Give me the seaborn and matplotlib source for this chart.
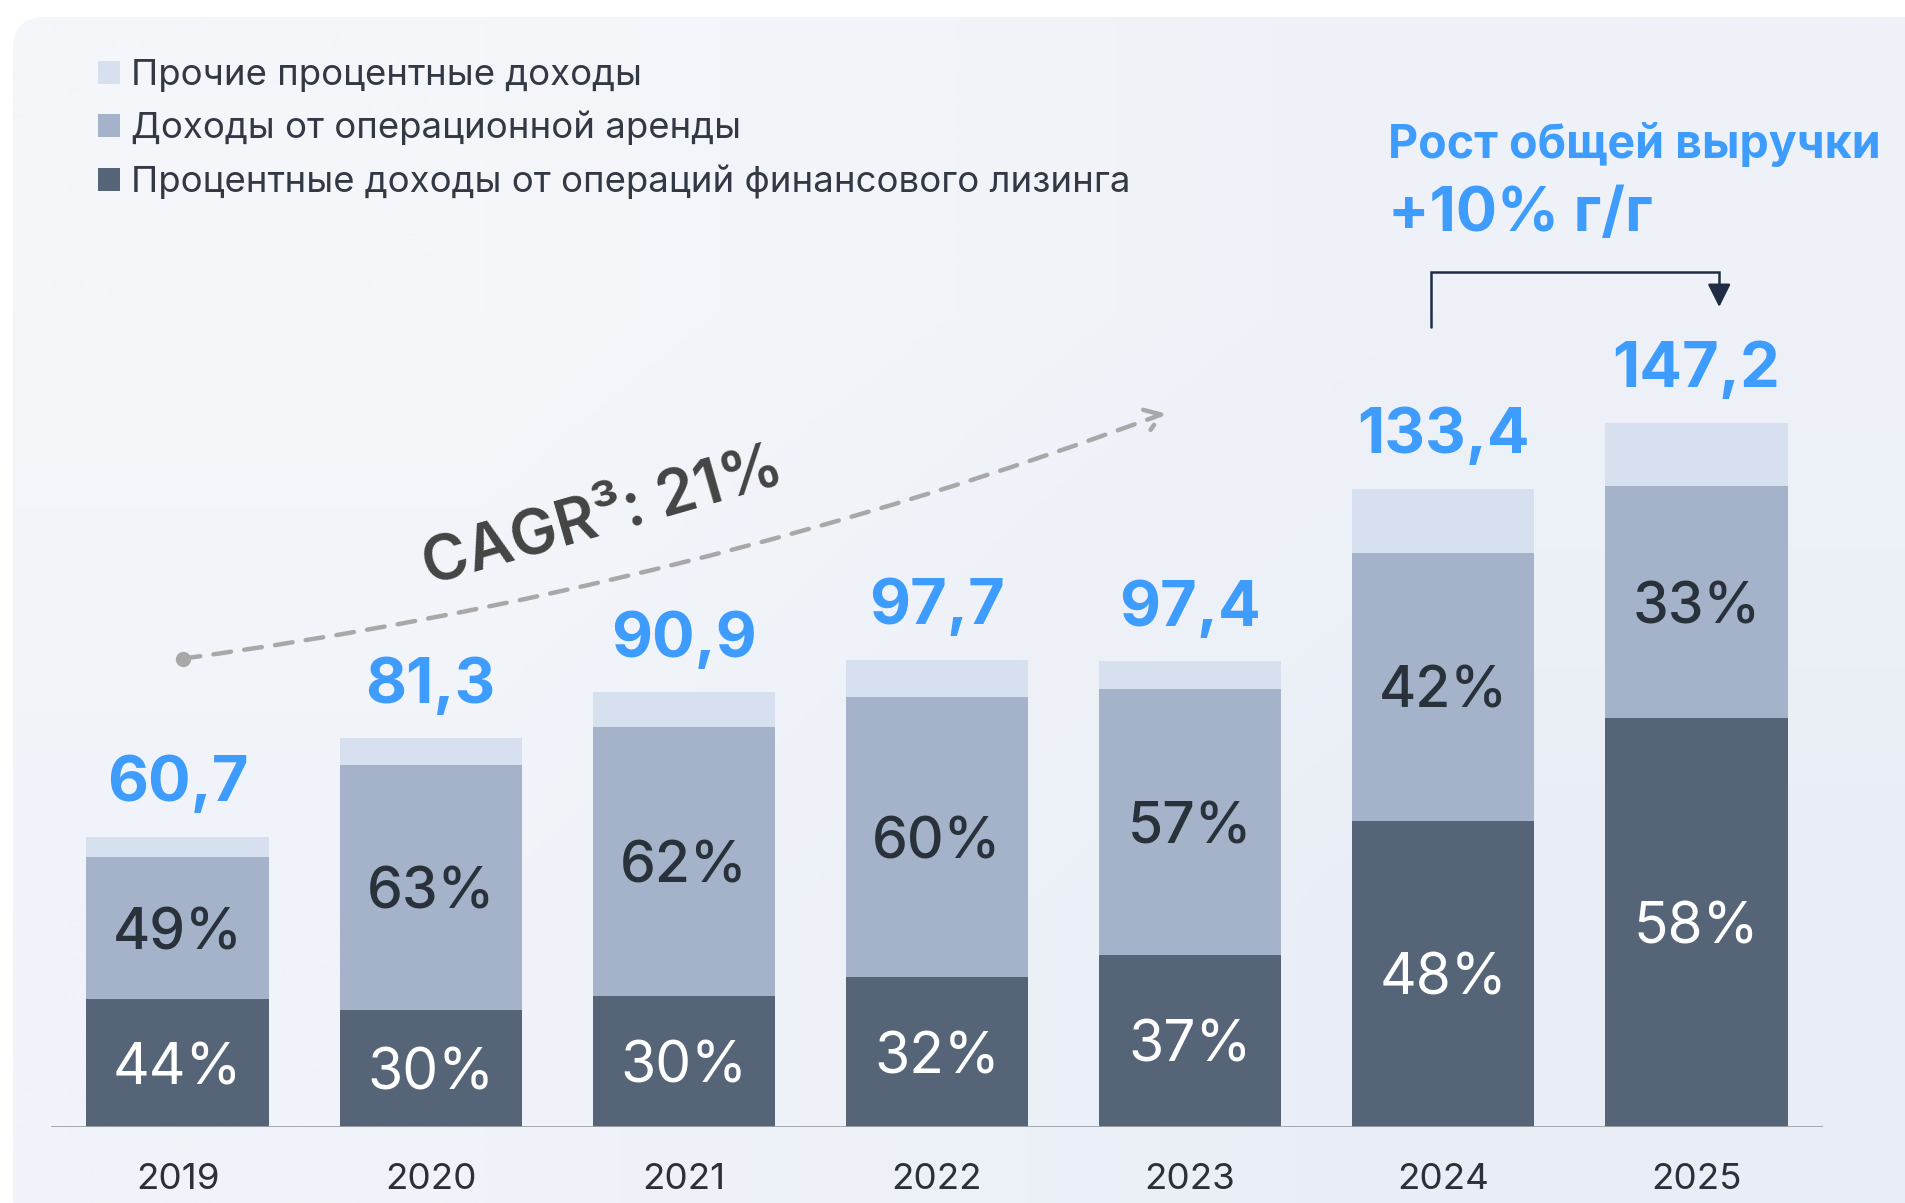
import matplotlib
matplotlib.use("Agg")
import numpy as np
import pandas as pd
import seaborn as sns
import matplotlib.pyplot as plt
from matplotlib.patches import FancyBboxPatch, Patch, FancyArrowPatch

# data (млрд руб.)
years = ["2019", "2020", "2021", "2022", "2023", "2024", "2025"]
leasing = [26.7, 24.4, 27.3, 31.3, 36.0, 64.0, 85.4]   # процентные доходы от фин. лизинга
rent = [29.7, 51.2, 56.4, 58.6, 55.5, 56.0, 48.6]      # доходы от операционной аренды
other = [4.3, 5.7, 7.2, 7.8, 5.9, 13.4, 13.2]          # прочие процентные доходы
total_labels = ["60,7", "81,3", "90,9", "97,7", "97,4", "133,4", "147,2"]
leasing_pct = ["44%", "30%", "30%", "32%", "37%", "48%", "58%"]
rent_pct = ["49%", "63%", "62%", "60%", "57%", "42%", "33%"]
series_names = ["Прочие процентные доходы",
                "Доходы от операционной аренды",
                "Процентные доходы от операций финансового лизинга"]
cagr_label = "CAGR³: 21%"
growth_title = "Рост общей выручки"
growth_value = "+10% г/г"

# colors
c_other = "#d7e0ee"
c_rent = "#a4b3c9"
c_leasing = "#556577"
c_blue = "#3d9cfd"
c_text = "#29313b"

sns.set_style("white")
plt.rcParams['font.family'] = ['Inter', 'DejaVu Sans']

df = pd.DataFrame({"year": years, "leasing": leasing, "rent": rent, "other": other})
df["lvl2"] = df["leasing"] + df["rent"]
df["total"] = df["lvl2"] + df["other"]

W, H = 1906, 1203
fig = plt.figure(figsize=(W / 100, H / 100), dpi=100)
fig.patch.set_facecolor("white")

# background panel with soft gradient
bg = fig.add_axes([0, 0, 1, 1], zorder=-5)
bg.set_xlim(0, W)
bg.set_ylim(0, H)
bg.axis("off")
panel = FancyBboxPatch((13, -60), W + 100, H - 17 + 60,
                       boxstyle="round,pad=0,rounding_size=32",
                       facecolor="none", edgecolor="none")
bg.add_patch(panel)
grad = np.array([[[244, 246, 250], [238, 242, 248]],
                 [[240, 243, 249], [233, 238, 246]]]) / 255.0
im = bg.imshow(grad, extent=[13, W, 0, H - 17], origin="upper",
               interpolation="bilinear", aspect="auto")
im.set_clip_path(panel)

# main axes: baseline at y=1127px, 4.784 px per unit
ymax = 230
ax_h = ymax * 4.784 / H
ax = fig.add_axes([51 / W, 76 / H, 1772 / W, ax_h])
ax.set_facecolor("none")

sns.barplot(data=df, x="year", y="total", color=c_other, saturation=1,
            width=0.72, linewidth=0, ax=ax)
sns.barplot(data=df, x="year", y="lvl2", color=c_rent, saturation=1,
            width=0.72, linewidth=0, ax=ax)
sns.barplot(data=df, x="year", y="leasing", color=c_leasing, saturation=1,
            width=0.72, linewidth=0, ax=ax)

ax.set_xlim(-0.5, 6.5)
ax.set_ylim(0, ymax)
ax.axhline(0, color="#9da1a8", lw=2, zorder=5)
for s in ax.spines.values():
    s.set_visible(False)
ax.set_yticks([])
ax.set_xlabel("")
ax.set_ylabel("")
ax.tick_params(axis="x", length=0, pad=26, labelsize=26.5, labelcolor="#2c3139")

# labels
for i, row in df.iterrows():
    ax.text(i, row["total"] + 7.4, total_labels[i], ha="center", va="baseline",
            fontsize=45.5, fontweight="bold", color=c_blue)
    ax.text(i, row["leasing"] / 2, leasing_pct[i], ha="center",
            va="center_baseline", fontsize=41, color="white")
    ax.text(i, row["leasing"] + row["rent"] / 2, rent_pct[i], ha="center",
            va="center_baseline", fontsize=41, fontweight="medium", color=c_text)

# CAGR dashed arrow
ax.plot([0.02], [97.9], "o", color="#a8a8a8", markersize=10, zorder=6)
arr = FancyArrowPatch(posA=(0.02, 97.9), posB=(3.90, 149.2),
                      connectionstyle="arc3,rad=0.055",
                      arrowstyle="->,head_length=0.5,head_width=0.35",
                      mutation_scale=22, lw=3.2, color="#a8a8a8",
                      linestyle=(0, (4, 3)), shrinkA=0, shrinkB=0, zorder=6)
ax.add_patch(arr)
ax.text(1.68, 127.5, cagr_label, rotation=16, ha="center", va="center",
        fontsize=45, fontweight="semibold", color="#444444",
        rotation_mode="anchor")

# growth annotation
ax.text(4.78, 202.5, growth_title, ha="left", va="baseline",
        fontsize=33.5, fontweight="bold", color=c_blue)
ax.text(4.78, 187.2, growth_value, ha="left", va="baseline",
        fontsize=44, fontweight="bold", color=c_blue)
ax.plot([4.95, 4.95, 6.09, 6.09], [167.2, 178.7, 178.7, 175.0],
        color="#1f2c44", lw=1.8, solid_joinstyle="miter", zorder=6)
ax.annotate("", xy=(6.09, 171.4), xytext=(6.09, 176.0),
            arrowprops=dict(arrowstyle="-|>,head_length=0.7,head_width=0.35",
                            color="#1f2c44", lw=1.8, mutation_scale=20,
                            shrinkA=0, shrinkB=0))

# legend
handles = [Patch(facecolor=c, edgecolor="none") for c in (c_other, c_rent, c_leasing)]
fig.legend(handles, series_names, loc="upper left",
           bbox_to_anchor=(98 / W, 1 - 59 / H), frameon=False,
           fontsize=26.3, labelcolor="#333944", borderpad=0, borderaxespad=0,
           handlelength=0.6, handleheight=0.6, handletextpad=0.3,
           labelspacing=0.52)

fig.savefig("out.png", dpi=100)
